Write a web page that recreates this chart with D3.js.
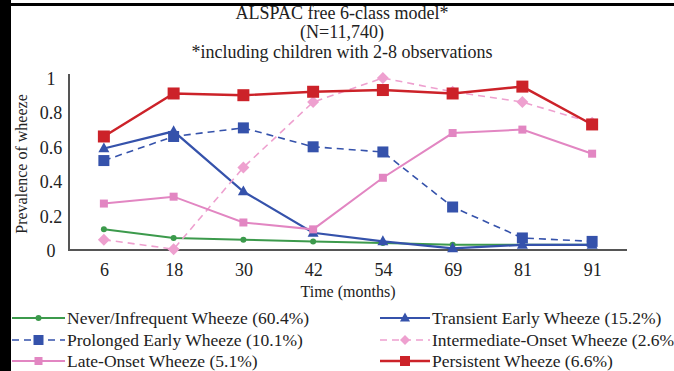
<!DOCTYPE html>
<html>
<head>
<meta charset="utf-8">
<script src="https://cdn.jsdelivr.net/npm/d3@7"></script>
<style>
  html, body { margin: 0; padding: 0; background: #fff; }
  svg { display: block; }
</style>
</head>
<body>
<svg id="chart" width="674" height="371"></svg>
<script>
// Time points (months)
const months = ["6", "18", "30", "42", "54", "69", "81", "91"];
const yTicks = [0, 0.2, 0.4, 0.6, 0.8, 1];

// Estimated prevalence of wheeze per class
const neverInfrequent = [0.12, 0.07, 0.06, 0.05, 0.04, 0.03, 0.03, 0.03];
const transientEarly  = [0.59, 0.69, 0.34, 0.10, 0.05, 0.01, 0.03, 0.03];
const prolongedEarly  = [0.52, 0.66, 0.71, 0.60, 0.57, 0.25, 0.07, 0.05];
const intermediateOnset = [0.06, 0.005, 0.48, 0.86, 1.00, 0.92, 0.86, 0.74];
const lateOnset       = [0.27, 0.31, 0.16, 0.12, 0.42, 0.68, 0.70, 0.56];
const persistent      = [0.66, 0.91, 0.90, 0.92, 0.93, 0.91, 0.95, 0.73];

const classNames = [
  "Never/Infrequent Wheeze (60.4%)",
  "Transient Early Wheeze (15.2%)",
  "Prolonged Early Wheeze (10.1%)",
  "Intermediate-Onset Wheeze (2.6%)",
  "Late-Onset Wheeze (5.1%)",
  "Persistent Wheeze (6.6%)"
];

const FONT = "'Liberation Serif', 'Times New Roman', serif";
const INK = "#222";

const series = [
  { name: classNames[0], values: neverInfrequent, color: "#3c9a4c", dash: null, marker: "circle", size: 3, width: 2 },
  { name: classNames[1], values: transientEarly, color: "#3552ab", dash: null, marker: "triangle", size: 5.5, width: 2.2 },
  { name: classNames[2], values: prolongedEarly, color: "#3552ab", dash: "7,5", marker: "square", size: 5.5, width: 1.6 },
  { name: classNames[3], values: intermediateOnset, color: "#eea0cf", dash: "7,5", marker: "diamond", size: 6, width: 1.6 },
  { name: classNames[4], values: lateOnset, color: "#e286c2", dash: null, marker: "square", size: 4, width: 2 },
  { name: classNames[5], values: persistent, color: "#cc2229", dash: null, marker: "square", size: 6, width: 2.4 }
];

const svg = d3.select("#chart");

// framing strips
svg.append("rect").attr("x", 0).attr("y", 0).attr("width", 11).attr("height", 371).attr("fill", "#000");
svg.append("rect").attr("x", 11).attr("y", 3).attr("width", 663).attr("height", 3).attr("fill", "#000");

const margin = { left: 69, right: 627, top: 78, bottom: 250 };

const x = d3.scalePoint().domain(months).range([margin.left, margin.right]).padding(0.5);
const y = d3.scaleLinear().domain([0, 1]).range([margin.bottom, margin.top]);

// Titles
const titles = [
  ["ALSPAC free 6-class model*", 19],
  ["(N=11,740)", 38],
  ["*including children with 2-8 observations", 58]
];
svg.selectAll("text.title").data(titles).join("text")
  .attr("class", "title")
  .attr("x", 342).attr("y", d => d[1])
  .attr("text-anchor", "middle")
  .style("font-family", FONT)
  .style("font-size", "18px")
  .attr("fill", INK)
  .text(d => d[0]);

// Axes
const yAxis = svg.append("g").attr("transform", `translate(${margin.left},0)`)
  .call(d3.axisLeft(y).tickValues(yTicks).tickSize(0)
    .tickFormat(d => d3.format("~g")(d)));
yAxis.select(".domain").attr("stroke", "#555").attr("stroke-width", 2)
  .attr("d", `M0,${y(1) - 4}V${y(0)}`);
yAxis.selectAll(".tick text")
  .attr("x", -18).attr("text-anchor", "middle").attr("dy", "0.36em")
  .style("font-family", FONT).style("font-size", "18px").attr("fill", INK);

const xAxis = svg.append("g").attr("transform", `translate(0,${margin.bottom})`)
  .call(d3.axisBottom(x).tickSize(0).tickPadding(13));
xAxis.select(".domain").attr("stroke", "#555").attr("stroke-width", 2)
  .attr("d", `M${margin.left - 1},0H${margin.right}`);
xAxis.selectAll(".tick text")
  .style("font-family", FONT).style("font-size", "18px").attr("fill", INK);

// Axis titles
svg.append("text")
  .attr("transform", `translate(27,${(y(0) + y(1)) / 2}) rotate(-90)`)
  .attr("text-anchor", "middle")
  .style("font-family", FONT).style("font-size", "16px").attr("fill", INK)
  .text("Prevalence of wheeze");

svg.append("text")
  .attr("x", 348).attr("y", 297)
  .attr("text-anchor", "middle")
  .style("font-family", FONT).style("font-size", "16px").attr("fill", INK)
  .text("Time (months)");

// Marker drawing helper
function drawMarker(g, type, cx, cy, s, color) {
  if (type === "circle") {
    g.append("circle").attr("cx", cx).attr("cy", cy).attr("r", s).attr("fill", color);
  } else if (type === "square") {
    g.append("rect").attr("x", cx - s).attr("y", cy - s).attr("width", 2 * s).attr("height", 2 * s).attr("fill", color);
  } else if (type === "triangle") {
    g.append("path").attr("d", `M${cx},${cy - s * 1.1}L${cx + s},${cy + s * 0.7}L${cx - s},${cy + s * 0.7}Z`).attr("fill", color);
  } else if (type === "diamond") {
    g.append("path").attr("d", `M${cx},${cy - s}L${cx + s},${cy}L${cx},${cy + s}L${cx - s},${cy}Z`).attr("fill", color);
  }
}

const line = d3.line().x((d, i) => x(months[i])).y(d => y(d));

const plot = svg.append("g");
series.forEach(s => {
  const g = plot.append("g");
  g.append("path")
    .attr("d", line(s.values))
    .attr("fill", "none")
    .attr("stroke", s.color)
    .attr("stroke-width", s.width)
    .attr("stroke-dasharray", s.dash);
  s.values.forEach((v, i) => drawMarker(g, s.marker, x(months[i]), y(v), s.size, s.color));
});

// Legend (two columns, three rows)
const legendPos = [
  [12, 318], [380, 318],
  [12, 340], [380, 340],
  [12, 361], [380, 361]
];
series.forEach((s, i) => {
  const [lx, ly] = legendPos[i];
  const g = svg.append("g");
  const w = i % 2 === 0 ? 53 : 50;
  g.append("line").attr("x1", lx).attr("x2", lx + w).attr("y1", ly).attr("y2", ly)
    .attr("stroke", s.color).attr("stroke-width", s.width).attr("stroke-dasharray", s.dash);
  drawMarker(g, s.marker, lx + w / 2, ly, Math.min(s.size, 5), s.color);
  g.append("text").attr("x", lx + w + 2).attr("y", ly + 6)
    .style("font-family", FONT).style("font-size", "17.5px").attr("fill", INK).text(s.name);
});
</script>
</body>
</html>
